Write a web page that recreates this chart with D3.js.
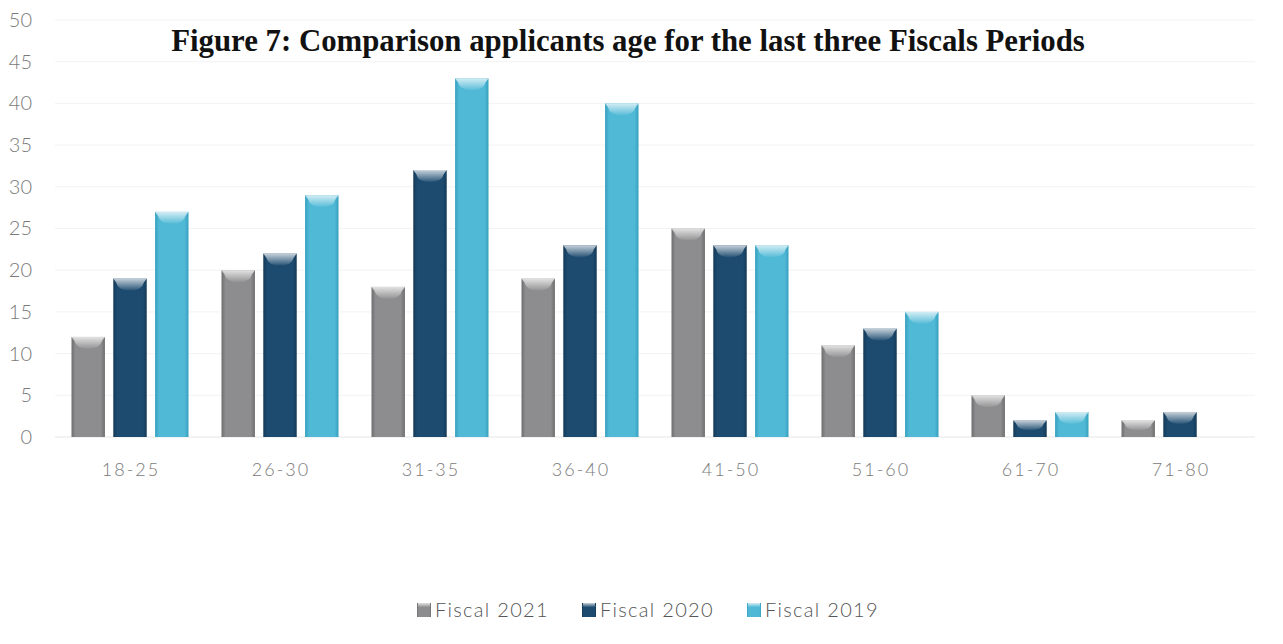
<!DOCTYPE html>
<html>
<head>
<meta charset="utf-8">
<title>Figure 7</title>
<script src="https://cdn.jsdelivr.net/npm/d3@7/dist/d3.min.js"></script>
<style>
  body { margin: 0; background: #fff; }
  .tick text { font-family: Lato, "DejaVu Sans", sans-serif; font-weight: 300; fill: #7a7a7a; }
</style>
</head>
<body>
<svg id="chart" width="1283" height="644"></svg>
<script>
// data
const categories = ["18-25", "26-30", "31-35", "36-40", "41-50", "51-60", "61-70", "71-80"];
const seriesNames = ["Fiscal 2021", "Fiscal 2020", "Fiscal 2019"];
const fiscal2021 = [12, 20, 18, 19, 25, 11, 5, 2];
const fiscal2020 = [19, 22, 32, 23, 23, 13, 2, 3];
const fiscal2019 = [27, 29, 43, 40, 23, 15, 3, null];
const yTicks = [0, 5, 10, 15, 20, 25, 30, 35, 40, 45, 50];

const seriesValues = [fiscal2021, fiscal2020, fiscal2019];
const colors = ["#8d8d8f", "#1d4b6f", "#4fb9d6"];
const darkColors = ["#6e6e70", "#143a58", "#36a0bf"];

const svg = d3.select('#chart');
const margin = { top: 20, right: 28, bottom: 207, left: 55 };
const width = 1283 - margin.left - margin.right;
const height = 644 - margin.top - margin.bottom;

const g = svg.append('g').attr('transform', `translate(${margin.left}, ${margin.top})`);

const x = d3.scaleBand().domain(categories).range([0, width]).paddingInner(0.22).paddingOuter(0.11);
const xs = d3.scaleBand().domain(seriesNames).range([0, x.bandwidth()]).paddingInner(0.2);
const y = d3.scaleLinear().domain([0, 50]).range([height, 0]);

// gradients for the bevelled bars
const defs = svg.append('defs');
colors.forEach((c, i) => {
  const lg = defs.append('linearGradient').attr('id', 'grad' + i).attr('x1', 0).attr('x2', 1).attr('y1', 0).attr('y2', 0);
  lg.append('stop').attr('offset', '0%').attr('stop-color', darkColors[i]);
  lg.append('stop').attr('offset', '12%').attr('stop-color', c);
  lg.append('stop').attr('offset', '88%').attr('stop-color', c);
  lg.append('stop').attr('offset', '100%').attr('stop-color', darkColors[i]);
  const cap = defs.append('linearGradient').attr('id', 'cap' + i).attr('x1', 0).attr('x2', 0).attr('y1', 0).attr('y2', 1);
  cap.append('stop').attr('offset', '0%').attr('stop-color', '#ffffff').attr('stop-opacity', 0.75);
  cap.append('stop').attr('offset', '100%').attr('stop-color', '#ffffff').attr('stop-opacity', 0.05);
});

// grid
g.append('g').selectAll('line').data(yTicks).join('line')
  .attr('x1', 0).attr('x2', width)
  .attr('y1', d => y(d)).attr('y2', d => y(d))
  .attr('stroke', d => d === 0 ? '#e6e6e6' : '#f3f3f3');

// y axis
const yAxis = g.append('g').call(d3.axisLeft(y).tickValues(yTicks).tickSize(0).tickPadding(23));
yAxis.select('.domain').remove();
yAxis.selectAll('text').attr('font-size', 20);

// x axis
const xAxis = g.append('g').attr('transform', `translate(0, ${height})`)
  .call(d3.axisBottom(x).tickSize(0).tickPadding(26));
xAxis.select('.domain').remove();
xAxis.selectAll('text').attr('font-size', 18).attr('letter-spacing', '2px').attr('dx', 1);

// bars
const rows = [];
categories.forEach((cat, ci) => {
  seriesValues.forEach((vals, si) => {
    if (vals[ci] != null) rows.push({ cat, si, v: vals[ci] });
  });
});

const bar = g.append('g').selectAll('g').data(rows).join('g')
  .attr('transform', d => `translate(${x(d.cat) + xs(seriesNames[d.si])}, ${y(d.v)})`);

bar.append('rect')
  .attr('width', xs.bandwidth())
  .attr('height', d => y(0) - y(d.v))
  .attr('fill', d => `url(#grad${d.si})`);

// top bevel highlight
bar.append('path')
  .attr('d', d => {
    const w = xs.bandwidth();
    const h = Math.min(12, (y(0) - y(d.v)) * 0.6);
    return `M0,0 L${w},0 L${w - 3},${h * 0.35} Q${w - 5},${h} ${w / 2},${h} Q5,${h} 3,${h * 0.35} Z`;
  })
  .attr('fill', d => `url(#cap${d.si})`);

// title
svg.append('text')
  .attr('x', 628).attr('y', 51)
  .attr('text-anchor', 'middle')
  .attr('font-family', '"Liberation Serif", "Times New Roman", serif')
  .attr('font-weight', 'bold')
  .attr('font-size', 30.8)
  .attr('fill', '#111')
  .text('Figure 7: Comparison applicants age for the last three Fiscals Periods');

// legend
const legendX = [417, 582, 747];
const legend = svg.append('g').selectAll('g').data(seriesNames).join('g')
  .attr('transform', (d, i) => `translate(${legendX[i]}, 610)`);
legend.append('rect').attr('x', 0).attr('y', -7).attr('width', 14).attr('height', 14)
  .attr('fill', (d, i) => `url(#grad${i})`);
legend.append('rect').attr('x', 1).attr('y', -7).attr('width', 12).attr('height', 4)
  .attr('fill', (d, i) => `url(#cap${i})`);
legend.append('text').attr('x', 18).attr('y', 0).attr('dy', '0.35em')
  .attr('font-family', 'Lato, "DejaVu Sans", sans-serif').attr('font-weight', 300)
  .attr('font-size', 20).attr('letter-spacing', '1.3px').attr('fill', '#555')
  .text(d => d);
</script>
</body>
</html>
